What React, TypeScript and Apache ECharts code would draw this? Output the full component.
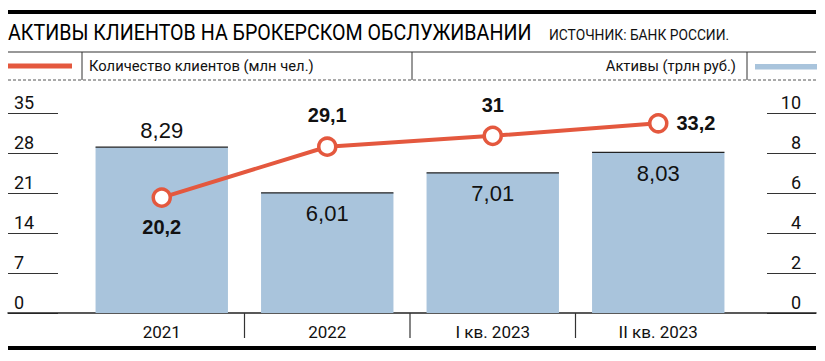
import React, { useEffect, useRef } from "react";
import * as echarts from "echarts";

const categories = ["2021", "2022", "I кв. 2023", "II кв. 2023"];
const clients = [20.2, 29.1, 31, 33.2];
const assets = [8.29, 6.01, 7.01, 8.03];
const clientLabels = ["20,2", "29,1", "31", "33,2"];
const assetLabels = ["8,29", "6,01", "7,01", "8,03"];
const leftTicks = [0, 7, 14, 21, 28, 35];
const rightTicks = [0, 2, 4, 6, 8, 10];

const COND = "Roboto, 'DejaVu Sans Condensed', sans-serif";
const SANS = "'Liberation Sans', Arial, Helvetica, sans-serif";
const RED = "#e4583e";
const BLUE = "#a9c4dc";

export default function App() {
  const ref = useRef<HTMLDivElement>(null);
  useEffect(() => {
    if (!ref.current) return;
    const chart = echarts.init(ref.current, undefined, { renderer: "svg" });
    const gridTop = 113;
    const gridH = 200;
    const labelPos = [
      { position: "bottom", distance: 9 },
      { position: "top", distance: 11 },
      { position: "top", distance: 11 },
      { position: "right", distance: 8 },
    ];
    chart.setOption({
      animation: false,
      backgroundColor: "#fff",
      grid: [
        { left: 79, right: 84, top: gridTop, height: gridH },
        { left: 8, width: 50, top: gridTop, height: gridH },
        { left: 767, width: 49, top: gridTop, height: gridH },
        { left: 8, right: 9, top: gridTop, height: gridH },
      ],
      xAxis: [
        {
          type: "category",
          gridIndex: 0,
          data: categories,
          axisLine: { show: false },
          axisTick: { show: false },
          axisLabel: { color: "#111", fontFamily: COND, fontSize: 17, margin: 10 },
        },
        { type: "value", gridIndex: 1, show: false },
        { type: "value", gridIndex: 2, show: false },
        {
          type: "value",
          gridIndex: 3,
          axisLine: { show: true, lineStyle: { color: "#222", width: 1.5 } },
          axisTick: { show: false },
          axisLabel: { show: false },
          splitLine: { show: false },
        },
      ],
      yAxis: [
        { type: "value", gridIndex: 0, min: 0, max: 35, interval: 7, show: false },
        { type: "value", gridIndex: 0, min: 0, max: 10, interval: 2, show: false },
        {
          type: "value",
          gridIndex: 1,
          min: leftTicks[0],
          max: leftTicks[leftTicks.length - 1],
          interval: 7,
          axisLine: { show: false },
          axisTick: { show: false },
          splitLine: { show: true, lineStyle: { color: "#333", width: 1.2 } },
          axisLabel: {
            inside: true,
            margin: 6,
            align: "left",
            verticalAlign: "bottom",
            padding: [0, 0, 2, 0],
            color: "#111",
            fontFamily: COND,
            fontSize: 18,
          },
        },
        {
          type: "value",
          gridIndex: 2,
          position: "right",
          min: rightTicks[0],
          max: rightTicks[rightTicks.length - 1],
          interval: 2,
          axisLine: { show: false },
          axisTick: { show: false },
          splitLine: { show: true, lineStyle: { color: "#333", width: 1.2 } },
          axisLabel: {
            inside: true,
            margin: 15,
            align: "right",
            verticalAlign: "bottom",
            padding: [0, 0, 2, 0],
            color: "#111",
            fontFamily: COND,
            fontSize: 18,
          },
        },
        { type: "value", gridIndex: 3, show: false, min: 0, max: 1 },
      ],
      series: [
        {
          type: "bar",
          xAxisIndex: 0,
          yAxisIndex: 1,
          barWidth: "80%",
          itemStyle: { color: BLUE },
          data: assets.map((v, i) => ({
            value: v,
            label: {
              show: true,
              position: i === 0 ? "top" : "insideTop",
              distance: i === 0 ? 6 : 10,
              formatter: assetLabels[i],
              color: "#111",
              fontFamily: SANS,
              fontSize: 22,
            },
          })),
          z: 1,
        },
        {
          type: "custom",
          xAxisIndex: 0,
          yAxisIndex: 1,
          data: assets.map((v, i) => [i, v]),
          z: 2,
          renderItem: (params: any, api: any) => {
            const i = api.value(0);
            const v = api.value(1);
            const p = api.coord([i, v]);
            const base = api.coord([i, 0]);
            const band = api.size([1, 0])[0];
            const bw = band * 0.8;
            const children: any[] = [
              {
                type: "line",
                shape: { x1: p[0] - bw / 2, y1: p[1], x2: p[0] + bw / 2, y2: p[1] },
                style: { stroke: "#222", lineWidth: 1.3 },
              },
            ];
            if (i < categories.length - 1) {
              const sx = p[0] + band / 2;
              children.push({
                type: "line",
                shape: { x1: sx, y1: base[1], x2: sx, y2: base[1] + 25 },
                style: { stroke: "#333", lineWidth: 1.2 },
              });
            }
            return { type: "group", children };
          },
        },
        {
          type: "line",
          xAxisIndex: 0,
          yAxisIndex: 0,
          symbol: "circle",
          symbolSize: 17,
          lineStyle: { color: RED, width: 4 },
          itemStyle: { color: "#fff", borderColor: RED, borderWidth: 3.5 },
          data: clients.map((v, i) => ({
            value: v,
            label: {
              show: true,
              position: labelPos[i].position,
              distance: labelPos[i].distance,
              formatter: clientLabels[i],
              color: "#111",
              fontFamily: SANS,
              fontWeight: "bold",
              fontSize: 20,
            },
          })),
          z: 5,
        },
      ],
      graphic: [
        { type: "rect", shape: { x: 8, y: 10, width: 808, height: 4 }, style: { fill: "#000" } },
        {
          type: "text",
          x: 8,
          y: 33,
          scaleX: 0.893,
          style: {
            text: "АКТИВЫ КЛИЕНТОВ НА БРОКЕРСКОМ ОБСЛУЖИВАНИИ",
            fill: "#000",
            font: `22px ${COND}`,
            verticalAlign: "middle",
          },
        },
        {
          type: "text",
          x: 549,
          y: 35,
          scaleX: 0.92,
          style: {
            text: "ИСТОЧНИК: БАНК РОССИИ.",
            fill: "#111",
            font: `15px ${COND}`,
            verticalAlign: "middle",
          },
        },
        { type: "line", shape: { x1: 8, y1: 52, x2: 816, y2: 52 }, style: { stroke: "#333", lineWidth: 1.2 } },
        { type: "line", shape: { x1: 8, y1: 80, x2: 816, y2: 80 }, style: { stroke: "#555", lineWidth: 1, lineDash: [3, 2] } },
        { type: "line", shape: { x1: 82, y1: 52, x2: 82, y2: 80 }, style: { stroke: "#333", lineWidth: 1 } },
        { type: "line", shape: { x1: 412, y1: 52, x2: 412, y2: 80 }, style: { stroke: "#333", lineWidth: 1 } },
        { type: "line", shape: { x1: 747, y1: 52, x2: 747, y2: 80 }, style: { stroke: "#333", lineWidth: 1 } },
        { type: "rect", shape: { x: 8, y: 63.5, width: 64, height: 5 }, style: { fill: RED } },
        { type: "rect", shape: { x: 755, y: 64, width: 62, height: 5.5 }, style: { fill: BLUE } },
        {
          type: "text",
          x: 89,
          y: 66,
          scaleX: 0.985,
          style: { text: "Количество клиентов (млн чел.)", fill: "#111", font: `15px ${COND}`, verticalAlign: "middle" },
        },
        {
          type: "text",
          x: 736,
          y: 66,
          scaleX: 0.985,
          style: { text: "Активы (трлн руб.)", fill: "#111", font: `15px ${COND}`, verticalAlign: "middle", align: "right" },
        },
        { type: "rect", shape: { x: 8, y: 346, width: 808, height: 4 }, style: { fill: "#000" } },
      ],
    });
    return () => chart.dispose();
  }, []);
  return <div ref={ref} style={{ width: 825, height: 361, position: "absolute", left: 0, top: 0 }} />;
}
